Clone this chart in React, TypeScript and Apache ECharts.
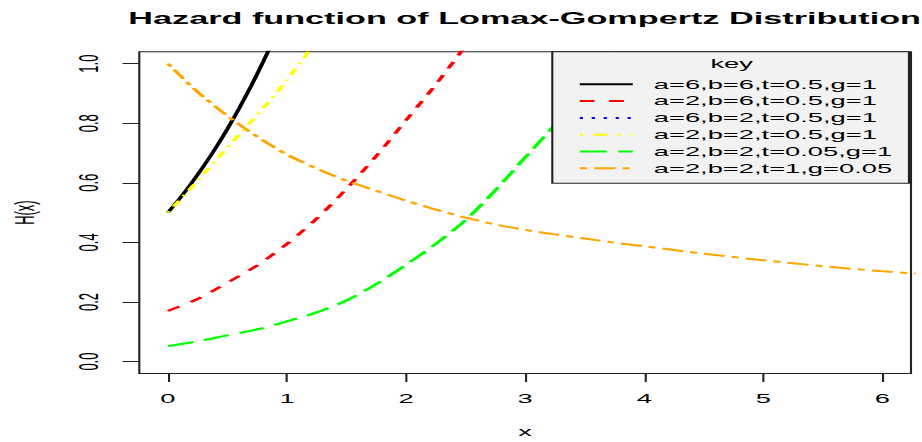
import React, { useEffect, useRef } from 'react';
import * as echarts from 'echarts';

// ---------- data ----------
const TITLE = 'Hazard function of Lomax-Gompertz Distribution';
const X_NAME = 'x';
const Y_NAME = 'H(x)';
const LEGEND_TITLE = 'key';
const X_TICKS = [0, 1, 2, 3, 4, 5, 6];
const Y_TICKS = [0, 0.2, 0.4, 0.6, 0.8, 1.0];
const SERIES_NAMES = [
  'a=6,b=6,t=0.5,g=1',
  'a=2,b=6,t=0.5,g=1',
  'a=6,b=2,t=0.5,g=1',
  'a=2,b=2,t=0.5,g=1',
  'a=2,b=2,t=0.05,g=1',
  'a=2,b=2,t=1,g=0.05',
];

const blackX = [0, 0.1, 0.2, 0.3, 0.4, 0.5, 0.6, 0.7, 0.8, 0.9];
const blackY = [0.5, 0.548, 0.6, 0.656, 0.716, 0.781, 0.851, 0.926, 1.006, 1.091];

const redX = [0, 0.25, 0.5, 0.75, 1.0, 1.25, 1.5, 1.75, 2.0, 2.25, 2.5];
const redY = [0.17, 0.21, 0.265, 0.323, 0.395, 0.48, 0.58, 0.69, 0.81, 0.93, 1.06];

const blueX: number[] = [];
const blueY: number[] = [];

const yellowX = [0, 0.2, 0.4, 0.6, 0.8, 1.0, 1.2];
const yellowY = [0.5, 0.585, 0.675, 0.762, 0.85, 0.945, 1.05];

const greenX = [0, 0.25, 0.5, 0.75, 1.0, 1.25, 1.5, 1.75, 2.0, 2.25, 2.5, 2.75, 3.0, 3.25, 3.5, 3.75];
const greenY = [0.052, 0.068, 0.088, 0.108, 0.135, 0.165, 0.205, 0.26, 0.325, 0.395, 0.475, 0.575, 0.685, 0.795, 0.915, 1.05];

const orangeX = [0, 0.25, 0.5, 0.75, 1.0, 1.25, 1.5, 1.75, 2.0, 2.25, 2.5, 2.75, 3.0, 3.25, 3.5, 3.75, 4.0, 4.5, 5.0, 5.5, 6.0, 6.3];
const orangeY = [1.0, 0.905, 0.825, 0.755, 0.695, 0.648, 0.607, 0.573, 0.54, 0.51, 0.483, 0.46, 0.442, 0.427, 0.413, 0.399, 0.387, 0.362, 0.34, 0.32, 0.303, 0.295];

// ---------- layout (R-style plot, horizontally stretched) ----------
const SX = 2.1;
const W = 922 / SX;
const H = 442;
const sx = (v: number) => v / SX;
const FONT = "'Liberation Sans', Arial, sans-serif";

const pair = (xs: number[], ys: number[]) => xs.map((x, i) => [x, ys[i]]);

const seriesDefs = [
  { x: blackX, y: blackY, color: '#000000', dash: 'solid' as any },
  { x: redX, y: redY, color: '#FF0000', dash: [7, 7] },
  { x: blueX, y: blueY, color: '#0000FF', dash: [1.5, 4.2] },
  { x: yellowX, y: yellowY, color: '#FFFF00', dash: [1.6, 4.9, 6.5, 4.9] },
  { x: greenX, y: greenY, color: '#00FF00', dash: [12.8, 5.5] },
  { x: orangeX, y: orangeY, color: '#FFA500', dash: [3.4, 3.4, 10.2, 3.4] },
];

export default function App() {
  const ref = useRef<HTMLDivElement>(null);
  useEffect(() => {
    if (!ref.current) return;
    const chart = echarts.init(ref.current, null, { renderer: 'svg', width: W, height: H });
    const option: any = {
      animation: false,
      backgroundColor: '#ffffff',
      title: {
        text: TITLE,
        left: sx(128.3),
        top: 10.5,
        padding: 0,
        textStyle: { fontSize: 16.3, fontWeight: 'bold', fontFamily: FONT, color: '#000' },
      },
      grid: {
        left: sx(139.3),
        right: W - sx(911),
        top: 51.7,
        bottom: H - 373.5,
        show: true,
        borderColor: '#222',
        borderWidth: 1,
        backgroundColor: 'transparent',
        containLabel: false,
        outerBoundsMode: 'none',
      },
      xAxis: {
        type: 'value',
        min: -0.24,
        max: 6.24,
        name: X_NAME,
        nameLocation: 'middle',
        nameGap: 52,
        nameMoveOverlap: false,
        nameTextStyle: { fontSize: 13, fontFamily: FONT, color: '#000' },
        axisLine: { show: false, onZero: false },
        splitLine: { show: false },
        axisTick: { show: true, customValues: X_TICKS, length: 8.5, lineStyle: { color: '#222', width: 1 } },
        axisLabel: {
          customValues: X_TICKS,
          margin: 19,
          fontSize: 13,
          fontFamily: FONT,
          color: '#000',
          formatter: (v: number) => String(Math.round(v)),
        },
      },
      yAxis: {
        type: 'value',
        min: -0.04,
        max: 1.04,
        name: Y_NAME,
        nameLocation: 'middle',
        nameGap: 48,
        nameMoveOverlap: false,
        nameTextStyle: { fontSize: 13, fontFamily: FONT, color: '#000' },
        axisLine: { show: false, onZero: false },
        splitLine: { show: false },
        axisTick: { show: true, customValues: Y_TICKS, length: 8, lineStyle: { color: '#222', width: 1 } },
        axisLabel: {
          customValues: Y_TICKS,
          rotate: 90,
          margin: 17.5,
          fontSize: 13,
          fontFamily: FONT,
          color: '#000',
          formatter: (v: number) => v.toFixed(1),
        },
      },
      legend: {
        data: SERIES_NAMES,
        orient: 'vertical',
        left: sx(552.3),
        top: 51.7,
        padding: [26.1, 8, 8.5, sx(577.7 - 552.3)],
        itemWidth: sx(53),
        itemHeight: 10,
        itemGap: 3.8,
        selectedMode: false,
        backgroundColor: '#f2f2f2',
        borderColor: '#222',
        borderWidth: 1,
        borderRadius: 0,
        itemStyle: { opacity: 0, color: 'transparent', borderColor: 'transparent', borderWidth: 0 },
        lineStyle: { width: 2, opacity: 1 },
        textStyle: { fontSize: 13, lineHeight: 13, fontFamily: FONT, color: '#000', padding: [0, 0, 0, 5] },
      },
      graphic: [
        {
          type: 'text',
          z: 100,
          x: sx(731.7),
          y: 63.3,
          style: { text: LEGEND_TITLE, font: `13px ${FONT}`, fill: '#000', align: 'center', verticalAlign: 'middle' },
        },
      ],
      series: seriesDefs.map((s, i) => ({
        name: SERIES_NAMES[i],
        type: 'line',
        data: pair(s.x, s.y),
        showSymbol: false,
        symbol: 'none',
        smooth: 0.3,
        clip: true,
        z: 2 + i * 0.01,
        lineStyle: { color: s.color, width: 2, type: s.dash },
        itemStyle: { color: s.color },
      })),
    };
    chart.setOption(option);
    return () => chart.dispose();
  }, []);

  return (
    <div
      style={{
        position: 'fixed',
        left: 0,
        top: 0,
        width: 922,
        height: 442,
        overflow: 'hidden',
        background: '#fff',
      }}
    >
      <div
        ref={ref}
        style={{ width: W, height: H, transform: `scaleX(${SX})`, transformOrigin: '0 0' }}
      />
    </div>
  );
}
